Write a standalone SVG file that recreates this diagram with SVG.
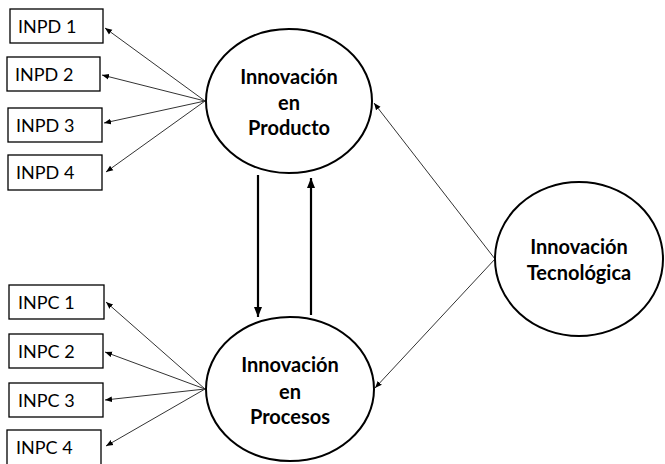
<svg xmlns="http://www.w3.org/2000/svg" width="665" height="464" viewBox="0 0 665 464">
<defs>
<style>
.box{fill:#fff;stroke:#000;stroke-width:1.3}
.ell{fill:#fff;stroke:#000;stroke-width:2}
.bt{font-family:Lato,"Open Sans",sans-serif;font-size:18px;fill:#000}
.et{font-family:Lato,"Open Sans",sans-serif;font-size:20px;font-weight:bold;fill:#000;text-anchor:middle}
.thin{stroke:#333;stroke-width:1;fill:none;marker-end:url(#ah)}
.thick{stroke:#000;stroke-width:2.2;fill:none;marker-end:url(#ahb)}
</style>
<marker id="ah" viewBox="0 0 10 10" refX="10" refY="5" markerWidth="7" markerHeight="7" markerUnits="userSpaceOnUse" orient="auto"><path d="M0,1 L10,5 L0,9 z" fill="#000"/></marker>
<marker id="ahb" viewBox="0 0 10 10" refX="10" refY="5" markerWidth="10" markerHeight="10" markerUnits="userSpaceOnUse" orient="auto"><path d="M0,1 L10,5 L0,9 z" fill="#000"/></marker>
</defs>
<rect width="665" height="464" fill="#fff"/>
<g id="connectors">
<line class="thin" x1="205" y1="101" x2="105" y2="28"/>
<line class="thin" x1="205" y1="101" x2="102" y2="75"/>
<line class="thin" x1="205" y1="101" x2="104" y2="123"/>
<line class="thin" x1="205" y1="101" x2="106" y2="172"/>
<line class="thin" x1="205" y1="389" x2="106" y2="302"/>
<line class="thin" x1="205" y1="389" x2="105" y2="352"/>
<line class="thin" x1="205" y1="389" x2="105" y2="400"/>
<line class="thin" x1="205" y1="389" x2="106" y2="446"/>
<line class="thin" x1="495" y1="259" x2="374" y2="103"/>
<line class="thin" x1="495" y1="259" x2="375" y2="388"/>
<line class="thick" x1="258" y1="175" x2="258" y2="317"/>
<line class="thick" x1="311" y1="315" x2="311" y2="178"/>
</g>
<g id="inpd1"><rect class="box" x="10" y="9" width="93" height="34"/><text class="bt" x="18" y="32.5">INPD 1</text></g>
<g id="inpd2"><rect class="box" x="7" y="57" width="93" height="34"/><text class="bt" x="15" y="80.5">INPD 2</text></g>
<g id="inpd3"><rect class="box" x="8" y="108" width="94" height="34"/><text class="bt" x="16" y="131.5">INPD 3</text></g>
<g id="inpd4"><rect class="box" x="8" y="155" width="94" height="35"/><text class="bt" x="16" y="179">INPD 4</text></g>
<g id="inpc1"><rect class="box" x="9" y="285" width="95" height="34"/><text class="bt" x="18" y="308.5">INPC 1</text></g>
<g id="inpc2"><rect class="box" x="9" y="334" width="94" height="34"/><text class="bt" x="18" y="357.5">INPC 2</text></g>
<g id="inpc3"><rect class="box" x="9" y="383" width="94" height="34"/><text class="bt" x="18" y="406.5">INPC 3</text></g>
<g id="inpc4"><rect class="box" x="7" y="430" width="94" height="40"/><text class="bt" x="16" y="454">INPC 4</text></g>
<g id="producto"><ellipse class="ell" cx="289" cy="101" rx="83" ry="72"/>
<text class="et" x="289" y="84">Innovación</text><text class="et" x="289" y="110">en</text><text class="et" x="289" y="135">Producto</text></g>
<g id="procesos"><ellipse class="ell" cx="290" cy="389" rx="84" ry="72"/>
<text class="et" x="290" y="372">Innovación</text><text class="et" x="290" y="399">en</text><text class="et" x="290" y="424">Procesos</text></g>
<g id="tecnologica"><ellipse class="ell" cx="579" cy="259" rx="84" ry="77"/>
<text class="et" x="579" y="254">Innovación</text><text class="et" x="579" y="280">Tecnológica</text></g>
</svg>
